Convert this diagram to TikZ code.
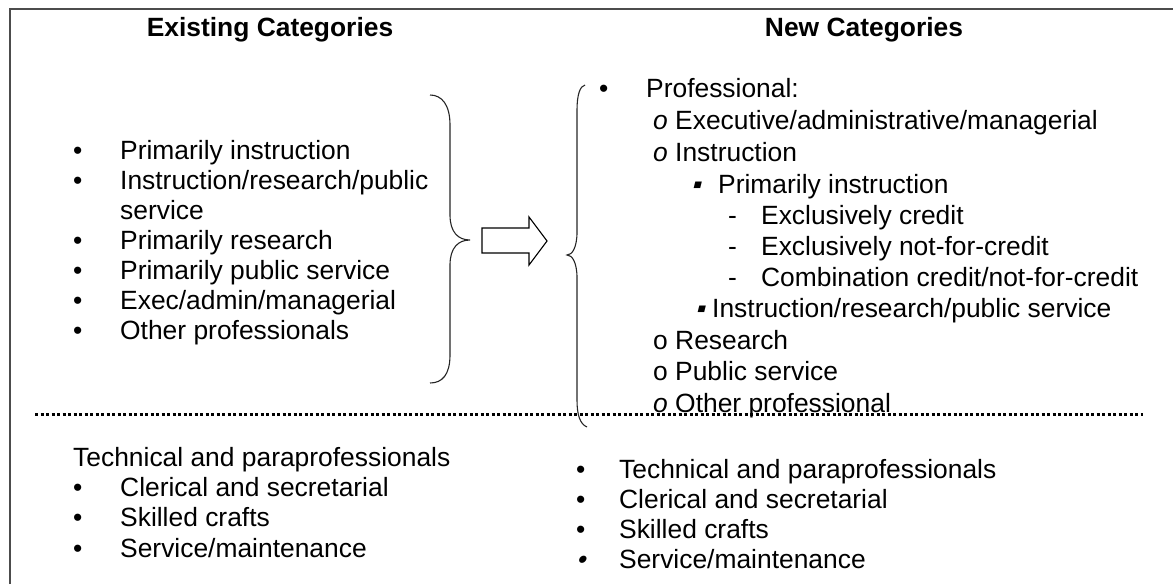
\documentclass[tikz,border=0pt]{standalone}
\usepackage{fontspec}
\setmainfont{Liberation Sans}
\newfontfamily\slantsym{Liberation Sans}[FakeSlant=0.25]

\tikzset{
  txt/.style={anchor=base west, inner sep=0pt, font=\fontsize{26.4}{30}\selectfont},
  head/.style={anchor=base, inner sep=0pt, font=\fontsize{26.4}{30}\selectfont\bfseries},
  brace/.style={draw=black!85, line width=1.1pt},
}
\newcommand\bul[1][47pt]{\makebox[#1][l]{•}}
\newcommand\dsh{\makebox[33pt][l]{-}}

\begin{document}
\begin{tikzpicture}[x=1pt,y=-1pt]
  % 画布大小
  \useasboundingbox (0,0) rectangle (1173,584);
  \def\lx{73}
  \def\rx{653}

  % 外框
  \draw[line width=2pt, black!70] (10,584) -- (10,9) -- (1173,9);

  % 标题
  \node[head] (hOld) at (270,36) {Existing Categories};
  \node[head] (hNew) at (864,36) {New Categories};

  % 原有类别
  \node[txt] (old1) at (\lx,159) {\bul Primarily instruction};
  \node[txt] (old2) at (\lx,189) {\bul Instruction/research/public};
  \node[txt] (old2b) at (120,219) {service};
  \node[txt] (old3) at (\lx,249) {\bul Primarily research};
  \node[txt] (old4) at (\lx,279) {\bul Primarily public service};
  \node[txt] (old5) at (\lx,309) {\bul Exec/admin/managerial};
  \node[txt] (old6) at (\lx,339) {\bul Other professionals};

  % 左括号
  \draw[brace] (430,95) .. controls (442,95) and (450,105) .. (450,125) -- (450,215)
    .. controls (450,232) and (458,240) .. (470,240)
    .. controls (458,240) and (450,248) .. (450,265) -- (450,355)
    .. controls (450,375) and (442,383) .. (430,383);

  % 空心箭头
  \draw[line width=1.1pt] (482,228) -- (529,228) -- (529,217) -- (547,241)
    -- (529,265) -- (529,253) -- (482,253) -- cycle;

  % 右括号
  \draw[brace] (585,85) .. controls (580,86) and (577,95) .. (577,110) -- (577,232)
    .. controls (577,248) and (572,255) .. (567,255)
    .. controls (572,255) and (577,262) .. (577,278) -- (577,400)
    .. controls (577,415) and (580,424) .. (587,427);

  % 新类别
  \node[txt] (new1) at (599,97) {\bul Professional:};
  \node[txt] (new2) at (\rx,129) {\textit{o} Executive/administrative/managerial};
  \node[txt] (new3) at (\rx,161) {\textit{o} Instruction};
  \node[txt] (new4) at (691,193) {\makebox[27pt][l]{\slantsym ▪}Primarily instruction};
  \node[txt] (new5) at (728,224) {\dsh Exclusively credit};
  \node[txt] (new6) at (728,255) {\dsh Exclusively not-for-credit};
  \node[txt] (new7) at (728,286) {\dsh Combination credit/not-for-credit};
  \node[txt] (new8) at (695,317) {\makebox[17pt][l]{\slantsym ▪}Instruction/research/public service};
  \node[txt] (new9) at (\rx,349) {o Research};
  \node[txt] (new10) at (\rx,380) {o Public service};
  \node[txt] (new11) at (\rx,412) {\textit{o} Other professional};

  % 虚线分隔
  \draw[line width=3pt, dash pattern=on 3pt off 2.5pt] (35,414) -- (1143,414);

  % 下方左侧
  \node[txt] (low1) at (\lx,466) {Technical and paraprofessionals};
  \node[txt] (low2) at (\lx,496) {\bul Clerical and secretarial};
  \node[txt] (low3) at (\lx,526) {\bul Skilled crafts};
  \node[txt] (low4) at (\lx,557) {\bul Service/maintenance};

  % 下方右侧
  \node[txt] (bot1) at (576,478) {\bul[43pt]Technical and paraprofessionals};
  \node[txt] (bot2) at (576,508) {\bul[43pt]Clerical and secretarial};
  \node[txt] (bot3) at (576,538) {\bul[43pt]Skilled crafts};
  \node[txt] (bot4) at (576,568) {\makebox[43pt][l]{\slantsym •}Service/maintenance};
\end{tikzpicture}
\end{document}
